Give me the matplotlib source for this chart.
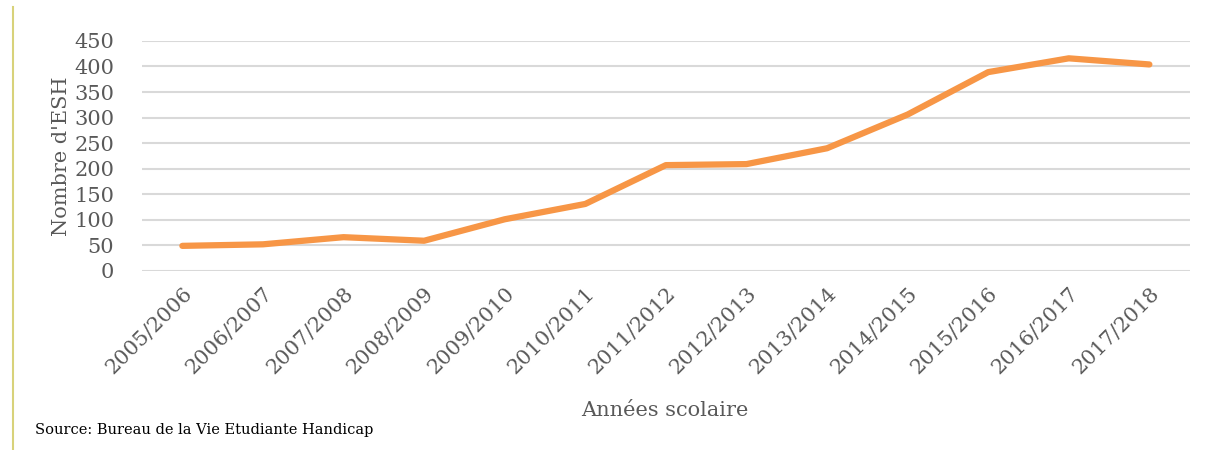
import matplotlib.pyplot as plt
from matplotlib.lines import Line2D

# data
annees = ["2005/2006", "2006/2007", "2007/2008", "2008/2009", "2009/2010",
          "2010/2011", "2011/2012", "2012/2013", "2013/2014", "2014/2015",
          "2015/2016", "2016/2017", "2017/2018"]
nb_esh = [49, 52, 66, 59, 101, 131, 207, 209, 240, 306, 389, 416, 404]
yticks = [0, 50, 100, 150, 200, 250, 300, 350, 400, 450]

plt.rcParams["font.family"] = ["DejaVu Serif"]

fig = plt.figure(figsize=(12.09, 4.5), dpi=100)
ax = fig.add_axes([0.1175, 0.398, 0.8665, 0.511])

x = list(range(len(annees)))
ax.plot(x, nb_esh, color="#F79646", lw=4.5, solid_capstyle="round",
        solid_joinstyle="round", zorder=3)

ax.set_xlim(-0.5, len(annees) - 0.5)
ax.set_ylim(0, 450)
ax.set_yticks(yticks)
ax.set_xticks(x)
ax.set_xticklabels(annees, rotation=45, ha="right", rotation_mode="anchor")
ax.yaxis.grid(True, color="#d9d9d9", lw=1.5)
ax.set_axisbelow(True)
for s in ax.spines.values():
    s.set_visible(False)
ax.tick_params(length=0, colors="#595959", labelsize=15)
ax.tick_params(axis="y", pad=20)
ax.tick_params(axis="x", pad=9)

ax.set_ylabel("Nombre d'ESH", color="#595959", fontsize=15, labelpad=2)
fig.text(0.55, 0.088, "Années scolaire", color="#595959", fontsize=15,
         ha="center", va="center")
fig.text(0.029, 0.045, "Source: Bureau de la Vie Etudiante Handicap",
         color="black", fontsize=10.5, ha="left", va="center")

# thin yellowish bar on the left edge of the page
fig.add_artist(Line2D([0.0105, 0.0105], [0.0, 0.985], color="#d8d27a",
                      lw=1.5, transform=fig.transFigure))

fig.savefig("out.png", dpi=100)
